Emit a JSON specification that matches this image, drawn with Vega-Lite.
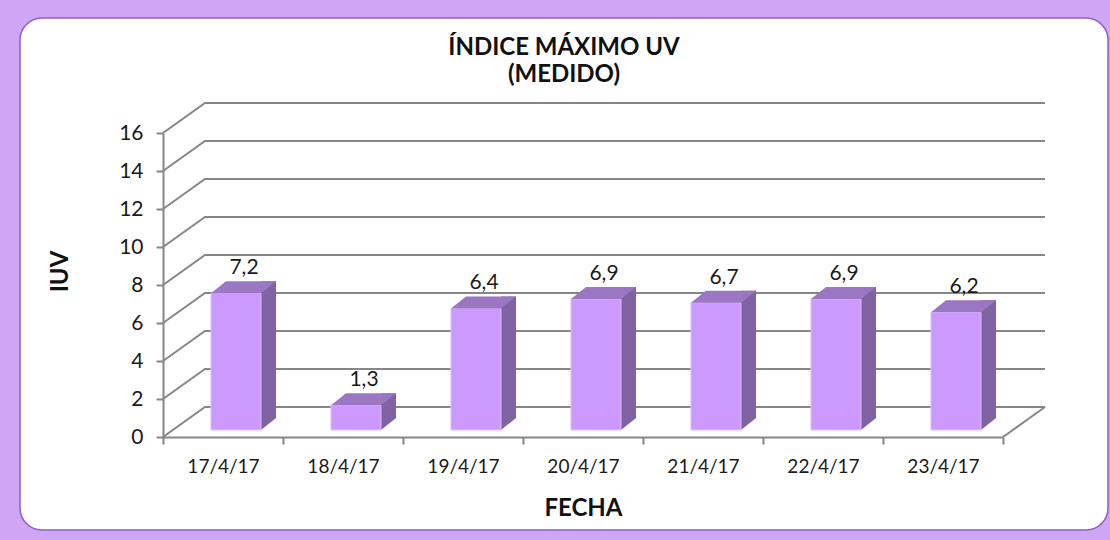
{
  "$schema": "https://vega.github.io/schema/vega-lite/v6.json",
  "width": 1088,
  "height": 512,
  "autosize": {"type": "none"},
  "padding": {"left": 20, "top": 18, "right": 2, "bottom": 10},
  "background": "#cfa5f6",
  "title": {
    "text": ["ÍNDICE MÁXIMO UV", "(MEDIDO)"],
    "font": "Lato",
    "fontSize": 24,
    "fontWeight": "bold",
    "color": "#111111",
    "anchor": "middle",
    "lineHeight": 27,
    "offset": -69
  },
  "datasets": {
    "uv": [
      {"fecha": "17/4/17", "iuv": 7.2},
      {"fecha": "18/4/17", "iuv": 1.3},
      {"fecha": "19/4/17", "iuv": 6.4},
      {"fecha": "20/4/17", "iuv": 6.9},
      {"fecha": "21/4/17", "iuv": 6.7},
      {"fecha": "22/4/17", "iuv": 6.9},
      {"fecha": "23/4/17", "iuv": 6.2}
    ],
    "grid": [
      {"fecha": "17/4/17", "iuv": 0}, {"fecha": "17/4/17", "iuv": 2}, {"fecha": "17/4/17", "iuv": 4},
      {"fecha": "17/4/17", "iuv": 6}, {"fecha": "17/4/17", "iuv": 8}, {"fecha": "17/4/17", "iuv": 10},
      {"fecha": "17/4/17", "iuv": 12}, {"fecha": "17/4/17", "iuv": 14}, {"fecha": "17/4/17", "iuv": 16}
    ],
    "floor": [{"fecha": "23/4/17", "iuv": 0}]
  },
  "encoding": {
    "x": {
      "field": "fecha", "type": "nominal", "sort": null, "title": "FECHA",
      "scale": {"domain": ["17/4/17", "18/4/17", "19/4/17", "20/4/17", "21/4/17", "22/4/17", "23/4/17"], "range": [143, 983], "paddingInner": 0, "paddingOuter": 0},
      "axis": {
        "orient": "bottom",
        "offset": -93,
        "tickBand": "extent",
        "labelAngle": 0,
        "grid": false,
        "domainColor": "#868686",
        "domainWidth": 2,
        "tickColor": "#868686",
        "tickWidth": 2,
        "tickSize": 7,
        "labelFont": "Lato",
        "labelFontSize": 19,
        "labelColor": "#1a1a1a",
        "labelPadding": 13,
        "titleFont": "Lato",
        "titleFontSize": 24,
        "titleFontWeight": "bold",
        "titleColor": "#111111",
        "titleBaseline": "alphabetic",
        "titleY": 78
      }
    },
    "y": {
      "field": "iuv", "type": "quantitative", "title": "IUV",
      "scale": {"domain": [0, 16], "range": [419, 115], "nice": false, "zero": true},
      "axis": {
        "values": [0, 2, 4, 6, 8, 10, 12, 14, 16],
        "offset": -143,
        "grid": false,
        "domainColor": "#868686",
        "domainWidth": 2,
        "tickColor": "#868686",
        "tickWidth": 2,
        "tickSize": 7,
        "labelFont": "Lato",
        "labelFontSize": 21,
        "labelColor": "#1a1a1a",
        "labelPadding": 13,
        "titleFont": "Lato",
        "titleFontSize": 24,
        "titleFontWeight": "bold",
        "titleColor": "#111111",
        "titleBaseline": "alphabetic",
        "titleX": -96,
        "titleY": 253
      }
    }
  },
  "layer": [
    {
      "data": {"name": "grid"},
      "mark": {"type": "point", "shape": "M-60,0L-18,-30L822,-30", "size": 4, "filled": false, "stroke": "#868686", "strokeWidth": 2, "opacity": 1}
    },
    {
      "data": {"name": "floor"},
      "mark": {"type": "point", "shape": "M60,0L102,-30", "size": 4, "filled": false, "stroke": "#868686", "strokeWidth": 2, "opacity": 1}
    },
    {
      "data": {"name": "uv"},
      "mark": {"type": "bar", "color": "#7f63a3", "width": 15, "xOffset": 45.5, "yOffset": -19, "y2Offset": -19},
      "encoding": {"y2": {"datum": 0}}
    },
    {
      "data": {"name": "uv"},
      "mark": {"type": "point", "shape": "M38,-19L53,-19L38,-7Z", "size": 4, "filled": true, "color": "#7f63a3", "opacity": 1, "strokeWidth": 0},
      "encoding": {"y": {"datum": 0, "type": "quantitative", "title": "IUV"}}
    },
    {
      "data": {"name": "uv"},
      "mark": {"type": "bar", "color": "#cc99ff", "width": 50, "xOffset": 13, "yOffset": -7, "y2Offset": -7, "stroke": "#dcbcff", "strokeWidth": 1},
      "encoding": {"y2": {"datum": 0}}
    },
    {
      "data": {"name": "uv"},
      "mark": {"type": "point", "shape": "M-12,-7L38,-7L53,-19L3,-19Z", "size": 4, "filled": true, "color": "#9b77c3", "opacity": 1, "strokeWidth": 0}
    },
    {
      "data": {"name": "uv"},
      "mark": {"type": "text", "font": "Lato", "fontSize": 21, "color": "#1a1a1a", "align": "center", "baseline": "alphabetic", "xOffset": 21, "yOffset": -26},
      "encoding": {
        "text": {"field": "iuv", "type": "quantitative", "format": ".1f"}
      }
    }
  ],
  "config": {
    "locale": {"number": {"decimal": ",", "thousands": ".", "grouping": [3], "currency": ["", " €"]}},
    "view": {"fill": "#ffffff", "stroke": "#8d5fc6", "strokeWidth": 1.5, "cornerRadius": 22}
  }
}
